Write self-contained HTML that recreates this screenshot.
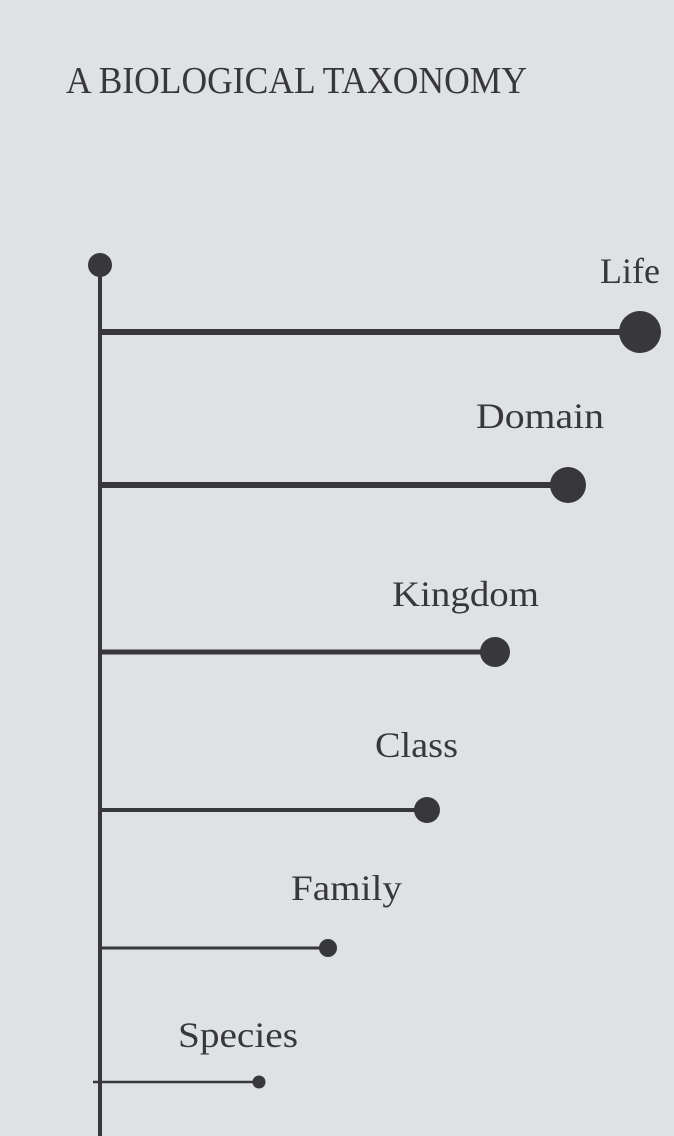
<!DOCTYPE html>
<html><head><meta charset="utf-8"><style>
html,body{margin:0;padding:0;background:#dfe2e3;}
svg{display:block}
text{font-family:"Liberation Serif",serif;fill:#38373b;}
</style></head><body>
<svg width="674" height="1136" viewBox="0 0 674 1136" xmlns="http://www.w3.org/2000/svg">
<rect width="674" height="1136" fill="#dfe2e3"/>
<text x="66" y="93" font-size="38" textLength="461" lengthAdjust="spacingAndGlyphs">A BIOLOGICAL TAXONOMY</text>
<g stroke="#38373b" fill="none">
<line x1="100" y1="265" x2="100" y2="1136" stroke-width="4"/>
<line x1="100" y1="332" x2="640" y2="332" stroke-width="6"/>
<line x1="100" y1="485" x2="568" y2="485" stroke-width="6"/>
<line x1="100" y1="652" x2="495" y2="652" stroke-width="5"/>
<line x1="100" y1="810" x2="427" y2="810" stroke-width="4"/>
<line x1="100" y1="948" x2="328" y2="948" stroke-width="3"/>
<line x1="93" y1="1082" x2="259" y2="1082" stroke-width="2.5"/>
</g>
<g fill="#38373b">
<circle cx="100" cy="265" r="12"/>
<circle cx="640" cy="332" r="21"/>
<circle cx="568" cy="485" r="18"/>
<circle cx="495" cy="652" r="15"/>
<circle cx="427" cy="810" r="13"/>
<circle cx="328" cy="948" r="9"/>
<circle cx="259" cy="1082" r="6.5"/>
</g>
<g font-size="36">
<text x="600" y="283" textLength="60" lengthAdjust="spacingAndGlyphs">Life</text>
<text x="476" y="428" textLength="128" lengthAdjust="spacingAndGlyphs">Domain</text>
<text x="392" y="606" textLength="147" lengthAdjust="spacingAndGlyphs">Kingdom</text>
<text x="375" y="757" textLength="83" lengthAdjust="spacingAndGlyphs">Class</text>
<text x="291" y="900" textLength="111" lengthAdjust="spacingAndGlyphs">Family</text>
<text x="178" y="1047" textLength="120" lengthAdjust="spacingAndGlyphs">Species</text>
</g>
</svg>
</body></html>
